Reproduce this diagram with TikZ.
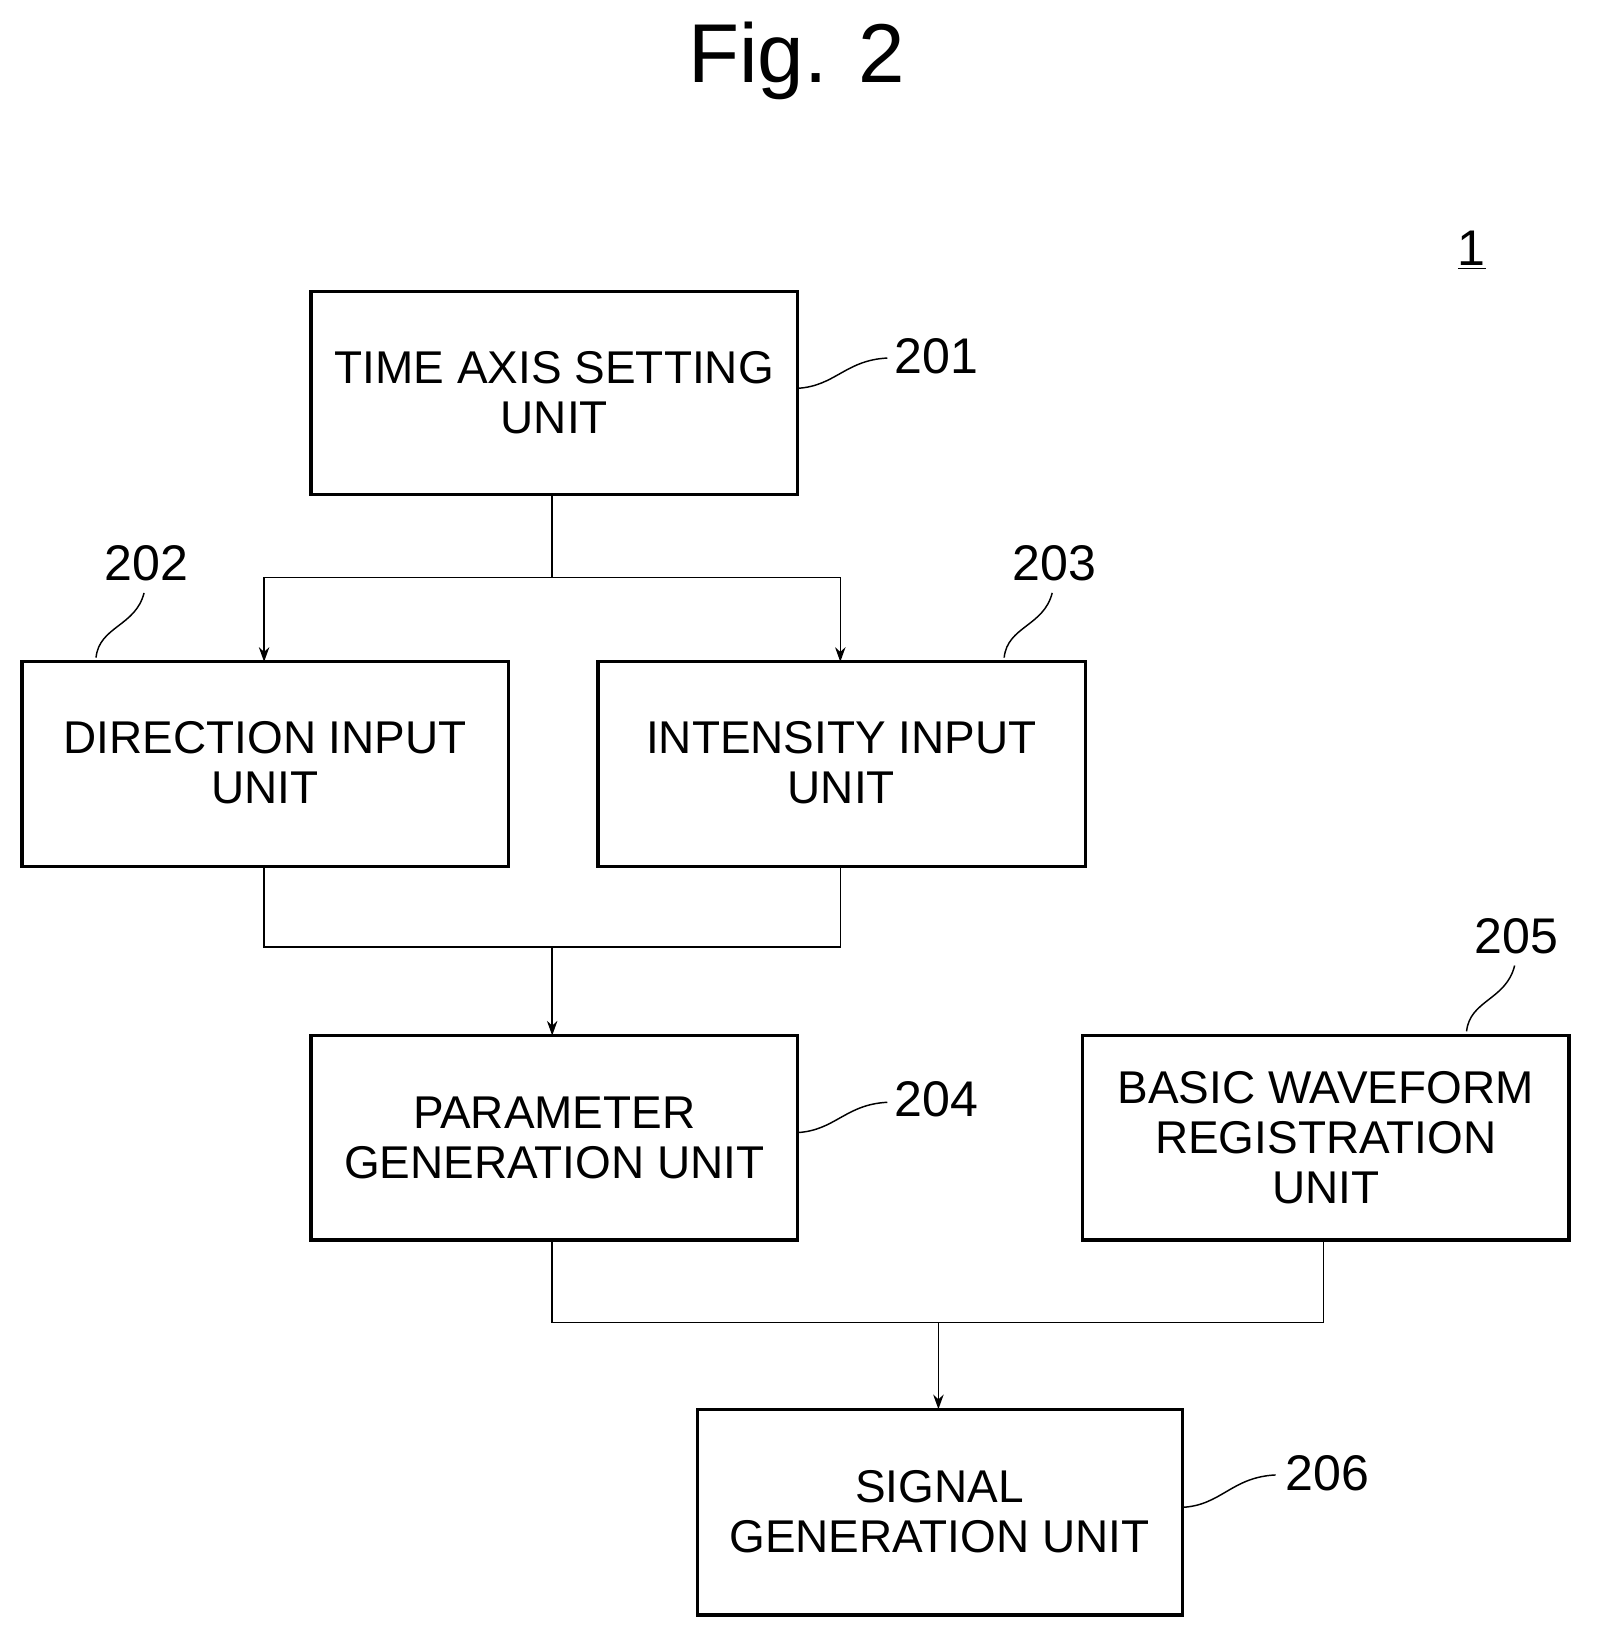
\documentclass[tikz,border=0pt]{standalone}
\usepackage{fontspec}
\setmainfont{Liberation Sans}
\usetikzlibrary{arrows.meta}
\begin{document}
\begin{tikzpicture}[x=0.5pt,y=-0.5pt,
 box/.style={draw,line width=1.6pt,minimum width=0pt},
 lbl/.style={font=\fontsize{22}{24}\selectfont,align=center},
 num/.style={font=\fontsize{24}{26}\selectfont},
 arr/.style={-{Stealth[length=7pt,width=5pt]},line width=0.7pt},
 ln/.style={line width=0.7pt}]
\useasboundingbox (0,0) rectangle (1530,1574);
\node[font=\fontsize{40}{44}\selectfont] (fig) at (763,58) {Fig. 2};
\node[num] (one) at (1410,240) {\underline{1}};
% boxes
\draw[box] (298,279) rectangle (764,474); \node[lbl] (b201) at (531,376) {TIME AXIS SETTING\\UNIT};
\draw[box] (21,634) rectangle (487,830); \node[lbl] (b202) at (254,731) {DIRECTION INPUT\\UNIT};
\draw[box] (573,634) rectangle (1040,830); \node[lbl] (b203) at (806,731) {INTENSITY INPUT\\UNIT};
\draw[box] (298,992) rectangle (764,1188); \node[lbl] (b204) at (531,1090) {PARAMETER\\GENERATION UNIT};
\draw[box] (1037,992) rectangle (1503,1188); \node[lbl] (b205) at (1270,1090) {BASIC WAVEFORM\\REGISTRATION\\UNIT};
\draw[box] (668,1350) rectangle (1133,1547); \node[lbl] (b206) at (900,1448) {SIGNAL\\GENERATION UNIT};
% connectors
\coordinate (j1) at (529,553);
\draw[ln] (529,474) -- (j1);
\draw[arr] (j1) -- (253,553) -- (253,634);
\draw[arr] (j1) -- (805,553) -- (805,634);
\draw[ln] (253,830) -- (253,907) -- (805,907) -- (805,830);
\draw[arr] (529,907) -- (529,992);
\draw[ln] (529,1188) -- (529,1267) -- (1268,1267) -- (1268,1188);
\draw[arr] (899,1267) -- (899,1350);
% reference numbers
\node[num] (n201) at (897,341) {201};
\draw[ln] (764,372) .. controls (800,370) and (810,345) .. (850,343);
\node[num] (n202) at (140,540) {202};
\draw[ln] (92,630) .. controls (95,600) and (130,600) .. (138,568);
\node[num] (n203) at (1010,540) {203};
\draw[ln] (962,630) .. controls (965,600) and (1000,600) .. (1008,568);
\node[num] (n204) at (897,1053) {204};
\draw[ln] (764,1085) .. controls (800,1083) and (810,1058) .. (850,1056);
\node[num] (n205) at (1453,897) {205};
\draw[ln] (1405,988) .. controls (1408,958) and (1443,958) .. (1451,925);
\node[num] (n206) at (1272,1411) {206};
\draw[ln] (1133,1444) .. controls (1170,1442) and (1180,1415) .. (1222,1413);
\end{tikzpicture}
\end{document}
